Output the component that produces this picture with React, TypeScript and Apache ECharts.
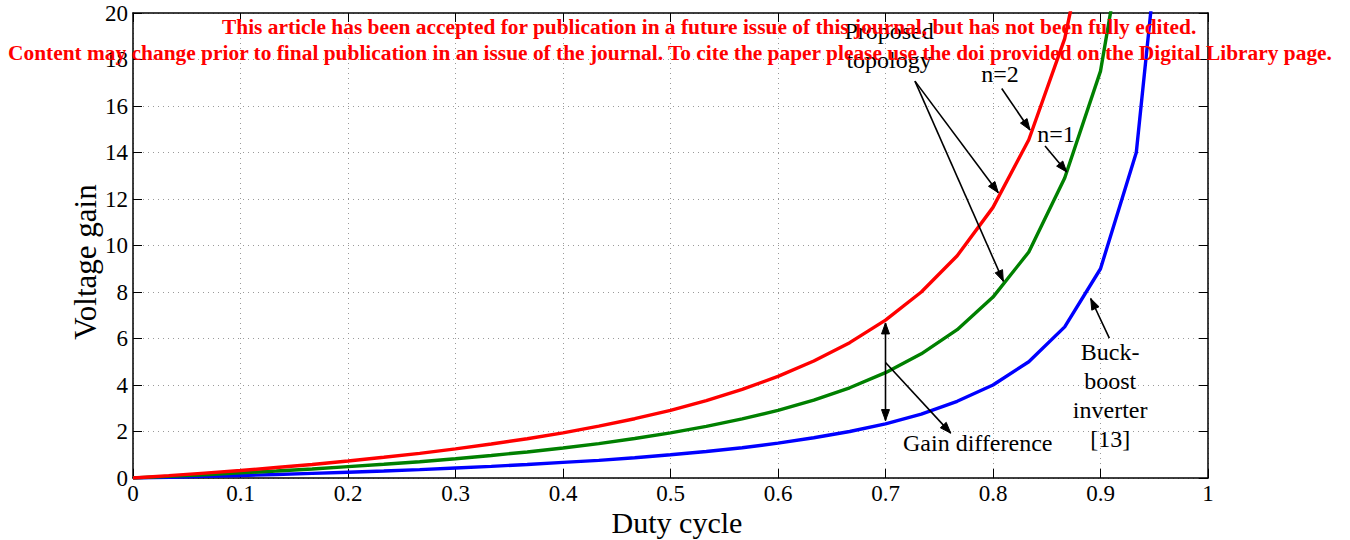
import React, { useEffect, useRef } from "react";
import * as echarts from "echarts";

const dutyCycle = [
  0, 0.0333, 0.0667, 0.1, 0.1333, 0.1667, 0.2, 0.2333, 0.2667, 0.3, 0.3333, 0.3667, 0.4, 0.4333,
  0.4667, 0.5, 0.5333, 0.5667, 0.6, 0.6333, 0.6667, 0.7, 0.7333, 0.7667, 0.8, 0.8333, 0.8667,
  0.9, 0.9333, 0.9667,
];
const buckBoostGain = [
  0, 0.03, 0.07, 0.11, 0.15, 0.2, 0.25, 0.3, 0.36, 0.43, 0.5, 0.58, 0.67, 0.76, 0.87, 1.0, 1.14,
  1.3, 1.5, 1.73, 2.0, 2.33, 2.75, 3.3, 4.0, 5.0, 6.5, 9.0, 14.0, 29.0,
];
const proposedN1Gain = [
  0, 0.07, 0.14, 0.22, 0.3, 0.39, 0.49, 0.59, 0.7, 0.83, 0.97, 1.12, 1.29, 1.48, 1.7, 1.94, 2.22,
  2.54, 2.91, 3.35, 3.88, 4.53, 5.34, 6.38, 7.78, 9.72, 12.9, 17.5, 26.5, 56,
];
const proposedN2Gain = [
  0, 0.1, 0.21, 0.32, 0.45, 0.58, 0.73, 0.89, 1.06, 1.25, 1.46, 1.69, 1.94, 2.23, 2.55, 2.91, 3.33,
  3.81, 4.37, 5.03, 5.82, 6.79, 8.0, 9.56, 11.64, 14.55, 18.9, 26.2, 40.7, 84,
];

const xAxisTitle = "Duty cycle";
const yAxisTitle = "Voltage gain";

const FONT = "'Liberation Serif', 'Times New Roman', serif";

// annotation arrows in data coordinates: [fromX, fromY, toX, toY, doubleHead]
const arrows: [number, number, number, number, boolean][] = [
  [0.7274, 17.07, 0.8049, 12.27, false],
  [0.7274, 17.07, 0.8096, 8.46, false],
  [0.8081, 16.75, 0.8344, 14.97, false],
  [0.8484, 14.28, 0.8686, 13.16, false],
  [0.9082, 6.02, 0.8909, 7.72, false],
  [0.7, 6.67, 0.7, 2.47, true],
  [0.7, 4.97, 0.7607, 1.93, false],
];
// annotation texts in data coordinates
const notes: [string, number, number][] = [
  ["Proposed", 0.7033, 19.22],
  ["topology", 0.7033, 17.97],
  ["n=2", 0.8065, 17.37],
  ["n=1", 0.8586, 14.78],
  ["Buck-", 0.909, 5.43],
  ["boost", 0.909, 4.18],
  ["inverter", 0.909, 2.93],
  ["[13]", 0.909, 1.68],
  ["Gain difference", 0.7858, 1.51],
];

const toPairs = (ys: number[]) => dutyCycle.map((d, i) => [d, ys[i]]);

export default function App() {
  const ref = useRef<HTMLDivElement>(null);
  useEffect(() => {
    if (!ref.current) return;
    const chart = echarts.init(ref.current, undefined, { renderer: "svg" });
    const axisLine = { show: true, onZero: false, lineStyle: { color: "#000", width: 1.5 } };
    const tick = { show: true, inside: true, length: 9, lineStyle: { color: "#000", width: 1 } };
    const split = { show: true, lineStyle: { color: "#9a9a9a", type: [1, 4] as any, width: 1 } };
    chart.setOption({
      animation: false,
      backgroundColor: "#fff",
      grid: { left: 133, right: 142, top: 13, bottom: 62, containLabel: false },
      xAxis: [
        {
          type: "value",
          min: 0,
          max: 1,
          interval: 0.1,
          position: "bottom",
          axisLine,
          axisTick: tick,
          splitLine: split,
          axisLabel: {
            color: "#000",
            fontSize: 23,
            fontFamily: FONT,
            margin: 4,
            formatter: (v: number) => String(Math.round(v * 10) / 10),
          },
        },
        {
          type: "value",
          min: 0,
          max: 1,
          interval: 0.1,
          position: "top",
          axisLine,
          axisTick: tick,
          splitLine: { show: false },
          axisLabel: { show: false },
        },
      ],
      yAxis: [
        {
          type: "value",
          min: 0,
          max: 20,
          interval: 2,
          position: "left",
          axisLine,
          axisTick: tick,
          splitLine: split,
          axisLabel: { color: "#000", fontSize: 23, fontFamily: FONT, margin: 5 },
        },
        {
          type: "value",
          min: 0,
          max: 20,
          interval: 2,
          position: "right",
          axisLine,
          axisTick: tick,
          splitLine: { show: false },
          axisLabel: { show: false },
        },
      ],
      series: [
        {
          name: "Buck-boost inverter [13]",
          type: "line",
          data: toPairs(buckBoostGain),
          symbol: "none",
          lineStyle: { color: "#0000ff", width: 3.4 },
          itemStyle: { color: "#0000ff" },
        },
        {
          name: "Proposed topology n=1",
          type: "line",
          data: toPairs(proposedN1Gain),
          symbol: "none",
          lineStyle: { color: "#008000", width: 3.4 },
          itemStyle: { color: "#008000" },
        },
        {
          name: "Proposed topology n=2",
          type: "line",
          data: toPairs(proposedN2Gain),
          symbol: "none",
          lineStyle: { color: "#ff0000", width: 3.4 },
          itemStyle: { color: "#ff0000" },
        },
      ],
    });

    const px = (x: number, y: number) => chart.convertToPixel({ gridIndex: 0 }, [x, y]) as number[];
    const head = (tx: number, ty: number, fx: number, fy: number) => {
      const dx = tx - fx;
      const dy = ty - fy;
      const len = Math.sqrt(dx * dx + dy * dy) || 1;
      const ux = dx / len;
      const uy = dy / len;
      const L = 11;
      const W = 4;
      const bx = tx - ux * L;
      const by = ty - uy * L;
      return {
        type: "polygon",
        z: 50,
        shape: {
          points: [
            [tx, ty],
            [bx - uy * W, by + ux * W],
            [bx + uy * W, by - ux * W],
          ],
        },
        style: { fill: "#000", stroke: "#000" },
      };
    };
    const graphics: any[] = [];
    arrows.forEach(([fx, fy, tx, ty, dbl]) => {
      const [x1, y1] = px(fx, fy);
      const [x2, y2] = px(tx, ty);
      graphics.push({
        type: "line",
        z: 50,
        shape: { x1, y1, x2, y2 },
        style: { stroke: "#000", lineWidth: 1.6 },
      });
      graphics.push(head(x2, y2, x1, y1));
      if (dbl) graphics.push(head(x1, y1, x2, y2));
    });
    notes.forEach(([t, x, y]) => {
      const [cx, cy] = px(x, y);
      graphics.push({
        type: "text",
        z: 60,
        x: cx,
        y: cy,
        style: {
          text: t,
          fill: "#000",
          fontSize: 24,
          fontFamily: FONT,
          align: "center",
          verticalAlign: "middle",
          textAlign: "center",
          textVerticalAlign: "middle",
        },
      });
    });
    // axis titles
    graphics.push({
      type: "text",
      z: 60,
      x: 677,
      y: 522,
      style: {
        text: xAxisTitle,
        fill: "#000",
        fontSize: 30,
        fontFamily: FONT,
        align: "center",
        verticalAlign: "middle",
        textAlign: "center",
        textVerticalAlign: "middle",
      },
    });
    graphics.push({
      type: "text",
      z: 60,
      x: 85,
      y: 262,
      rotation: Math.PI / 2,
      style: {
        text: yAxisTitle,
        fill: "#000",
        fontSize: 31,
        fontFamily: FONT,
        align: "center",
        verticalAlign: "middle",
        textAlign: "center",
        textVerticalAlign: "middle",
      },
    });
    const banner = [
      ["This article has been accepted for publication in a future issue of this journal, but has not been fully edited.", 222, 27],
      ["Content may change prior to final publication in an issue of the journal. To cite the paper please use the doi provided on the Digital Library page.", 8, 53],
    ] as [string, number, number][];
    banner.forEach(([t, x, y]) => {
      graphics.push({
        type: "text",
        z: 100,
        x,
        y,
        style: {
          text: t,
          fill: "#ff0000",
          fontSize: 21.4,
          fontWeight: "bold",
          fontFamily: FONT,
          align: "left",
          verticalAlign: "middle",
          textAlign: "left",
          textVerticalAlign: "middle",
        },
      });
    });
    chart.setOption({ graphic: graphics });

    return () => chart.dispose();
  }, []);
  return (
    <div
      ref={ref}
      style={{ position: "fixed", left: 0, top: 0, width: 1350, height: 540, background: "#fff" }}
    />
  );
}
